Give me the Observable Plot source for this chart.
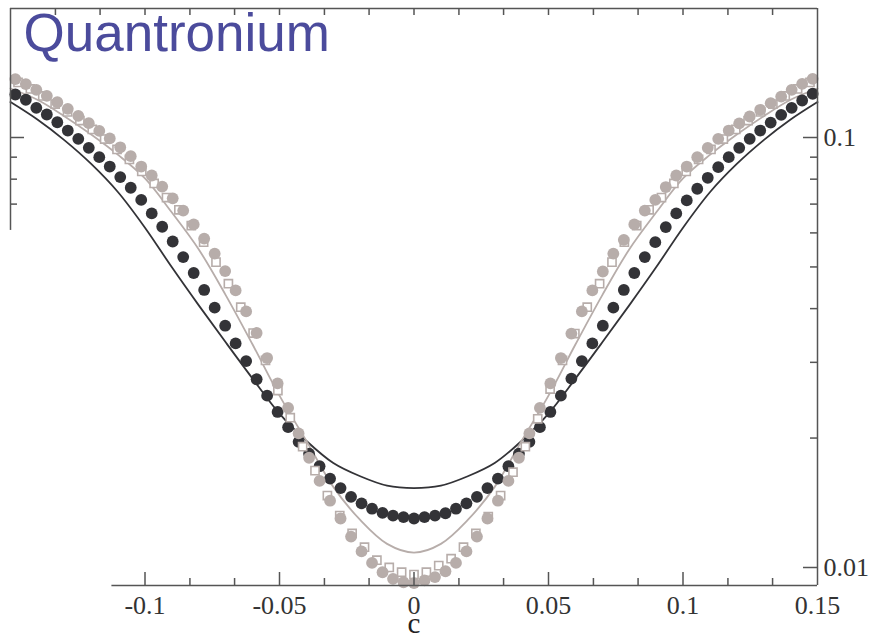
<!DOCTYPE html>
<html>
<head>
<meta charset="utf-8">
<script src="https://cdn.jsdelivr.net/npm/d3@7"></script>
<script src="https://cdn.jsdelivr.net/npm/@observablehq/plot@0.6"></script>
<style>
  body { margin: 0; background: #fff; }
  #chart svg { display: block; }
</style>
</head>
<body>
<div id="chart"></div>
<script>
// Flux offset c for the measured points
const cDots = [
  -0.1482, -0.1443, -0.1404, -0.1365, -0.1326, -0.1287, -0.1248, -0.1209, -0.117, -0.1131,
  -0.1092, -0.1053, -0.1014, -0.0975, -0.0936, -0.0897, -0.0858, -0.0819, -0.078, -0.0741,
  -0.0702, -0.0663, -0.0624, -0.0585, -0.0546, -0.0507, -0.0468, -0.0429, -0.039, -0.0351,
  -0.0312, -0.0273, -0.0234, -0.0195, -0.0156, -0.0117, -0.0078, -0.0039, 0,
  0.0039, 0.0078, 0.0117, 0.0156, 0.0195, 0.0234, 0.0273, 0.0312, 0.0351, 0.039,
  0.0429, 0.0468, 0.0507, 0.0546, 0.0585, 0.0624, 0.0663, 0.0702, 0.0741, 0.078,
  0.0819, 0.0858, 0.0897, 0.0936, 0.0975, 0.1014, 0.1053, 0.1092, 0.1131, 0.117,
  0.1209, 0.1248, 0.1287, 0.1326, 0.1365, 0.1404, 0.1443, 0.1482
];

// Dark filled circles
const darkDots = [
  0.1259, 0.1224, 0.1172, 0.1131, 0.1085, 0.1038, 0.0993, 0.0946, 0.0900, 0.0856,
  0.0809, 0.0764, 0.0716, 0.0666, 0.0620, 0.0573, 0.0527, 0.0484, 0.0442, 0.0402,
  0.0365, 0.0332, 0.0302, 0.0274, 0.0251, 0.0230, 0.0212, 0.0196, 0.0184, 0.0172,
  0.0161, 0.0153, 0.0146, 0.0141, 0.0137, 0.0134, 0.0132, 0.0131, 0.0130,
  0.0131, 0.0132, 0.01337, 0.0137, 0.0141, 0.0146, 0.0153, 0.0161, 0.0172, 0.0184,
  0.0196, 0.0212, 0.0230, 0.0251, 0.0275, 0.0302, 0.0332, 0.0365, 0.0402, 0.0442,
  0.0484, 0.0527, 0.0571, 0.0619, 0.0666, 0.0714, 0.0760, 0.0806, 0.0853, 0.0900,
  0.0946, 0.0993, 0.1038, 0.1083, 0.1129, 0.1172, 0.1219, 0.1264
];

// Light filled circles
const greyDots = [
  0.1367, 0.1331, 0.1291, 0.1250, 0.1208, 0.1166, 0.1123, 0.1080, 0.1036, 0.0995,
  0.0949, 0.0905, 0.0856, 0.0816, 0.0769, 0.0722, 0.0676, 0.0628, 0.0582, 0.0537,
  0.0489, 0.0441, 0.0394, 0.0351, 0.0307, 0.0268, 0.0235, 0.0205, 0.0180, 0.0159,
  0.0143, 0.0130, 0.0118, 0.0109, 0.01025, 0.00975, 0.00941, 0.00924, 0.00920,
  0.00933, 0.00950, 0.00980, 0.01025, 0.0109, 0.0118, 0.0130, 0.0143, 0.0159, 0.0180,
  0.0205, 0.0235, 0.0268, 0.0307, 0.0350, 0.0394, 0.0441, 0.0488, 0.0537, 0.0578,
  0.0628, 0.0676, 0.0716, 0.0767, 0.0816, 0.0856, 0.0900, 0.0946, 0.0993, 0.1038,
  0.1079, 0.1119, 0.1160, 0.1202, 0.1245, 0.1291, 0.1333, 0.1369
];

// Open squares, on their own c grid
const cSquares = [
  -0.1472, -0.1426, -0.138, -0.1334, -0.1288, -0.1242, -0.1196, -0.115, -0.1104, -0.1058,
  -0.1012, -0.0966, -0.092, -0.0874, -0.0828, -0.0782, -0.0736, -0.069, -0.0644, -0.0598,
  -0.0552, -0.0506, -0.046, -0.0414, -0.0368, -0.0322, -0.0276, -0.023, -0.0184, -0.0138,
  -0.0092, -0.0046, 0,
  0.0046, 0.0092, 0.0138, 0.0184, 0.023, 0.0276, 0.0322, 0.0368, 0.0414, 0.046,
  0.0506, 0.0552, 0.0598, 0.0644, 0.069, 0.0736, 0.0782, 0.0828, 0.0874, 0.092,
  0.0966, 0.1012, 0.1058, 0.1104, 0.115, 0.1196, 0.1242, 0.1288, 0.1334, 0.138,
  0.1426, 0.1472
];
const squares = [
  0.1343, 0.1297, 0.1249, 0.1196, 0.1147, 0.1095, 0.1044, 0.0992, 0.0938, 0.0889,
  0.0834, 0.0782, 0.0725, 0.0679, 0.0624, 0.0571, 0.0513, 0.0457, 0.0403, 0.0351,
  0.0303, 0.0258, 0.0223, 0.0191, 0.0168, 0.0147, 0.0132, 0.0120, 0.01115, 0.0104,
  0.0100, 0.00975, 0.00963,
  0.00975, 0.0101, 0.01048, 0.01115, 0.0120, 0.01314, 0.0147, 0.01666, 0.0191, 0.02217,
  0.0260, 0.0303, 0.0350, 0.0403, 0.0457, 0.0513, 0.0571, 0.0624, 0.0679, 0.0725,
  0.0782, 0.0834, 0.0889, 0.0938, 0.0992, 0.1044, 0.1095, 0.1147, 0.1196, 0.1249,
  0.1297, 0.1343
];

// Calculated curves
const cLine = [
  -0.15, -0.14, -0.13, -0.12, -0.11, -0.10, -0.09, -0.08, -0.07, -0.06, -0.05, -0.04,
  -0.03, -0.02, -0.01, 0, 0.01, 0.02, 0.03, 0.04, 0.05, 0.06, 0.07, 0.08, 0.09, 0.10,
  0.11, 0.12, 0.13, 0.14, 0.15
];
const darkLine = [
  0.1209, 0.1101, 0.0986, 0.0868, 0.0746, 0.0617, 0.0499, 0.0407, 0.0334, 0.0275,
  0.0228, 0.0197, 0.0175, 0.0163, 0.0155, 0.0153, 0.0155, 0.0163, 0.0175, 0.0197,
  0.0228, 0.0275, 0.0334, 0.0407, 0.0499, 0.0617, 0.0746, 0.0868, 0.0986, 0.1101, 0.1209
];
const greyLine = [
  0.1300, 0.1224, 0.1121, 0.1016, 0.0911, 0.0803, 0.0669, 0.0549, 0.0430, 0.0330,
  0.0251, 0.0197, 0.0154, 0.0129, 0.01135, 0.01083, 0.01135, 0.0129, 0.0154, 0.0197,
  0.0251, 0.0330, 0.0430, 0.0549, 0.0669, 0.0803, 0.0911, 0.1016, 0.1121, 0.1224, 0.1300
];

// Axes
const xDomain = [-0.15, 0.15];
const yDomain = [0.009081, 0.19953];
const xMajor = [-0.1, -0.05, 0, 0.05, 0.1, 0.15];
const xMajorLabels = ["-0.1", "-0.05", "0", "0.05", "0.1", "0.15"];
const xMinor = [-0.1333, -0.1167, -0.0833, -0.0667, -0.0333, -0.0167,
                0.0167, 0.0333, 0.0667, 0.0833, 0.1167, 0.1333];
const yMajor = [0.01, 0.1];
const yMajorLabels = ["0.01", "0.1"];
const yMinorRight = [0.02, 0.03, 0.04, 0.05, 0.06, 0.07, 0.08, 0.09];
const yMinorLeft = [0.07, 0.08, 0.09];
// where the partial left and bottom axis lines stop
const leftAxisEnd = 0.0608;
const bottomAxisStart = -0.1123;

const dark = "#333337";
const grey = "#b7adaa";
const axisColor = "#555";
const W = 872, H = 640;
const mL = 10, mR = 55, mT = 8, mB = 55;
const innerW = W - mL - mR, innerH = H - mT - mB;
const serif = "Liberation Serif, Times New Roman, serif";

const dots = (xs, ys) => xs.map((x, i) => ({x, y: ys[i]}));

const chart = Plot.plot({
  width: W,
  height: H,
  marginLeft: mL,
  marginRight: mR,
  marginTop: mT,
  marginBottom: mB,
  style: {background: "#fff"},
  x: {domain: xDomain, axis: null},
  y: {type: "log", domain: yDomain, axis: null},
  marks: [
    // curves
    Plot.line(dots(cLine, darkLine), {x: "x", y: "y", stroke: dark, strokeWidth: 1.8, curve: "catmull-rom"}),
    Plot.line(dots(cLine, greyLine), {x: "x", y: "y", stroke: grey, strokeWidth: 1.8, curve: "catmull-rom"}),
    // measured points
    Plot.dot(dots(cDots, darkDots), {x: "x", y: "y", r: 5.9, fill: dark, stroke: "none"}),
    Plot.dot(dots(cSquares, squares), {x: "x", y: "y", symbol: "square", r: 4.6, fill: "#fff", stroke: grey, strokeWidth: 1.6}),
    Plot.dot(dots(cDots, greyDots), {x: "x", y: "y", r: 5.9, fill: grey, stroke: "none"}),
    // frame pieces
    Plot.ruleY([yDomain[1]], {x1: xDomain[0], x2: xDomain[1], stroke: axisColor, strokeWidth: 1.5}),
    Plot.ruleY([yDomain[0]], {x1: bottomAxisStart, x2: xDomain[1], stroke: axisColor, strokeWidth: 1.5}),
    Plot.ruleX([xDomain[1]], {y1: yDomain[0], y2: yDomain[1], stroke: axisColor, strokeWidth: 1.5}),
    Plot.ruleX([xDomain[0]], {y1: leftAxisEnd, y2: yDomain[1], stroke: axisColor, strokeWidth: 1.5}),
    // bottom ticks
    Plot.tickX(xMajor.filter(d => d < 0.15), {x: d => d, insetTop: innerH - 13, stroke: axisColor, strokeWidth: 1.5}),
    Plot.tickX(xMinor.filter(d => d > bottomAxisStart), {x: d => d, insetTop: innerH - 7, stroke: axisColor, strokeWidth: 1.5}),
    // top ticks
    Plot.tickX([...xMajor.filter(d => d < 0.15), ...xMinor], {x: d => d, insetBottom: innerH - 7, stroke: axisColor, strokeWidth: 1.5}),
    // right ticks
    Plot.tickY(yMajor, {y: d => d, insetLeft: innerW - 14, stroke: axisColor, strokeWidth: 1.5}),
    Plot.tickY(yMinorRight, {y: d => d, insetLeft: innerW - 7, stroke: axisColor, strokeWidth: 1.5}),
    // left ticks
    Plot.tickY([0.1], {y: d => d, insetRight: innerW - 14, stroke: axisColor, strokeWidth: 1.5}),
    Plot.tickY(yMinorLeft, {y: d => d, insetRight: innerW - 7, stroke: axisColor, strokeWidth: 1.5}),
    // tick labels
    Plot.text(xMajor, {x: d => d, text: (d, i) => xMajorLabels[i], frameAnchor: "bottom", lineAnchor: "top",
      dy: 10, fontFamily: serif, fontSize: 26, fill: "#333"}),
    Plot.text(yMajor, {y: d => d, text: (d, i) => yMajorLabels[i], frameAnchor: "right", textAnchor: "start",
      lineAnchor: "middle", dx: 6, fontFamily: serif, fontSize: 26, fill: "#333"}),
    Plot.text(["c"], {x: 0, text: d => d, frameAnchor: "bottom", lineAnchor: "bottom", dy: 47,
      fontFamily: serif, fontSize: 29, fill: "#222"}),
    // title
    Plot.text(["Quantronium"], {text: d => d, frameAnchor: "top-left", textAnchor: "start", lineAnchor: "top",
      dx: 13, dy: 5, fontFamily: "Liberation Sans, Arial, sans-serif", fontSize: 53, fill: "#4b4b9c"})
  ]
});

document.getElementById("chart").appendChild(chart);
</script>
</body>
</html>
